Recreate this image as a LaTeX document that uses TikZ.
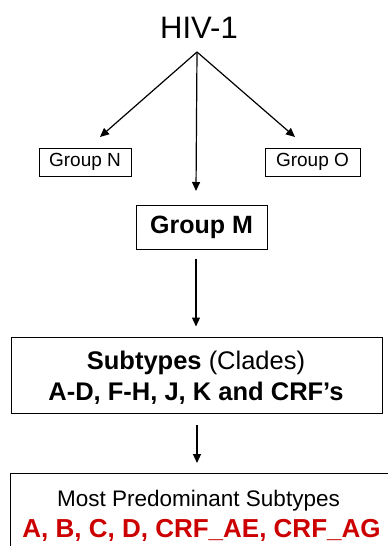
\documentclass[tikz,border=0pt]{standalone}
\usepackage{fontspec}
\setmainfont{Liberation Sans}
\usetikzlibrary{arrows.meta}
\definecolor{hivred}{RGB}{204,0,0}
\begin{document}
\begin{tikzpicture}[x=1pt,y=-1pt,
  box/.style={draw, line width=1pt, inner sep=0pt, anchor=center},
  arr/.style={line width=1.2pt, -{Triangle[length=9pt,width=8pt]}},
  lbl/.style={inner sep=0pt, anchor=base}]
\clip (0,0) rectangle (388,546);
\fill[white] (0,0) rectangle (388,546);
% title
\node[lbl, font=\fontsize{31}{31}\selectfont] (hiv) at (199,38) {HIV-1};
\coordinate (fork) at (197,52);
% group boxes
\node[box, minimum width=92pt, minimum height=28pt, font=\fontsize{19}{19}\selectfont] (gn) at (85,162) {Group N};
\node[box, minimum width=95pt, minimum height=28pt, font=\fontsize{19}{19}\selectfont] (go) at (312.5,162) {Group O};
\node[box, minimum width=131pt, minimum height=44pt, font=\bfseries\fontsize{25}{25}\selectfont] (gm) at (201.5,227) {Group M};
% subtypes box
\node[box, minimum width=371pt, minimum height=76pt] (sub) at (196.5,375) {};
\node[lbl, font=\fontsize{25.5}{25.5}\selectfont] (subl1) at (196,369) {\textbf{Subtypes} (Clades)};
\node[lbl, font=\bfseries\fontsize{25.5}{25.5}\selectfont] (subl2) at (196,400) {A-D, F-H, J, K and CRF’s};
% bottom box (runs past the edge)
\draw[line width=1pt] (10,560) -- (10,473) -- (400,473) coordinate (botr);
\coordinate (bot) at (197,473);
\node[lbl, font=\fontsize{22.5}{22.5}\selectfont] (most) at (198.5,506) {Most Predominant Subtypes};
\node[lbl, font=\bfseries\fontsize{26}{26}\selectfont, text=hivred] (red) at (201.5,537) {A, B, C, D, CRF\_AE, CRF\_AG};
% arrows
\coordinate (tn) at (100,137);
\coordinate (to) at (295,137);
\coordinate (tm) at (196,191);
\draw[arr] (fork) -- (tn);
\draw[arr] (fork) -- (to);
\draw[arr] (fork) -- (tm);
\draw[arr, shorten <=9pt, shorten >=10pt] (gm.south -| 196,0) -- (sub.north -| 196,0);
\draw[arr, shorten <=11pt, shorten >=10pt] (sub.south -| 197,0) -- (bot);
\end{tikzpicture}
\end{document}
